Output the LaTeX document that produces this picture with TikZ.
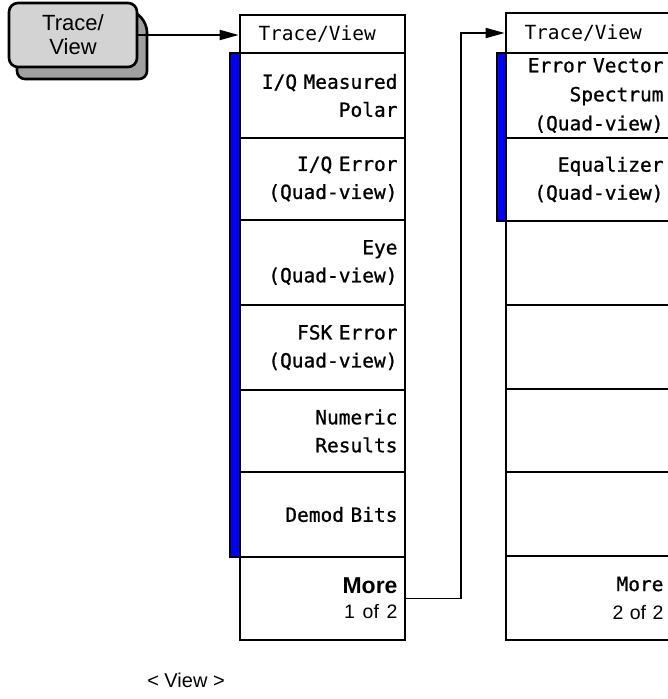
\documentclass[tikz,border=0pt]{standalone}
\usepackage{fontspec}
\setmainfont{Liberation Sans}
\newfontfamily\mono{DejaVu Sans Mono}
\newfontfamily\monob[FakeBold=1]{DejaVu Sans Mono}
\usetikzlibrary{arrows.meta}
\definecolor{keyface}{HTML}{D3D3D3}
\definecolor{keyshadow}{HTML}{A0A0A0}
\definecolor{barblue}{HTML}{0000FF}
\tikzset{
  cell/.style={draw=black, line width=2.7pt, minimum width=165pt, inner sep=0pt,
    text width=150pt, align=right, font=\fontsize{19.5}{28}\mono},
  titlecell/.style={cell, align=left},
  conn/.style={line width=1.8pt, -{Triangle[length=19pt,width=10pt]}},
  bar/.style={draw=black, line width=2.4pt, fill=barblue},
  keyface/.style={draw=black, line width=2.6pt, fill=keyface, rounded corners=9pt,
    minimum width=128pt, minimum height=64pt, inner sep=0pt, align=center,
    font=\fontsize{22}{24}\selectfont},
}
\begin{document}
\begin{tikzpicture}[x=1pt,y=-1pt]
\useasboundingbox (0,0) rectangle (668,699);
\clip (0,0) rectangle (668,699);
% key
\path[draw=black, line width=2.6pt, fill=keyshadow, rounded corners=8pt]
  (120,3) -- (136,12) -- (147,24) -- (147,79) -- (17,79) -- (17,50) -- cycle;
\node[keyface] (key) at (73,35) {Trace/\\View};
% left menu
\node[titlecell, minimum height=38pt] (L0) at (322.5,34) {\hspace*{11pt}Trace/View};
\node[cell, minimum height=85pt] (L1) at (322.5,95.5) {\monob I/Q Measured\\\monob Polar};
\node[cell, minimum height=82pt] (L2) at (322.5,179) {\monob I/Q Error\\(Quad-view)};
\node[cell, minimum height=85pt] (L3) at (322.5,262.5) {\monob Eye\\(Quad-view)};
\node[cell, minimum height=85pt] (L4) at (322.5,347.5) {\monob FSK Error\\(Quad-view)};
\node[cell, minimum height=82pt] (L5) at (322.5,431) {\monob Numeric\\\monob Results};
\node[cell, minimum height=85pt] (L6) at (322.5,514.5) {\monob Demod Bits};
\node[cell, minimum height=83pt, font=\fontsize{23}{25}\selectfont] (L7) at (322.5,598.5)
  {\textbf{More}\\\fontsize{19.5}{22}\selectfont 1 of 2};
\draw[bar] (230,53) rectangle (240,557);
% right menu
\node[titlecell, minimum height=40pt] (R0) at (588.5,33) {\hspace*{11pt}Trace/View};
\node[cell, minimum height=85pt, font=\fontsize{19.5}{29}\mono] (R1) at (588.5,95.5)
  {\monob Error Vector\\\monob Spectrum\\(Quad-view)};
\node[cell, minimum height=83pt] (R2) at (588.5,179.5) {\monob Equalizer\\(Quad-view)};
\node[cell, minimum height=84pt] (R3) at (588.5,263) {};
\node[cell, minimum height=84pt] (R4) at (588.5,347) {};
\node[cell, minimum height=83pt] (R5) at (588.5,430.5) {};
\node[cell, minimum height=84pt] (R6) at (588.5,514) {};
\node[cell, minimum height=84pt] (R7) at (588.5,598)
  {\monob More\\\fontsize{19.5}{22}\rmfamily 2 of 2};
\draw[bar] (497,53) rectangle (506,221);
% connectors
\draw[conn] (key.east) -- (key.east -| L0.west);
\draw[conn] (L7.east) -- ++(55,0) |- (R0.west);
% caption
\node[font=\fontsize{20}{22}\selectfont, inner sep=0pt] (cap) at (186,680) {< View >};
\end{tikzpicture}
\end{document}
